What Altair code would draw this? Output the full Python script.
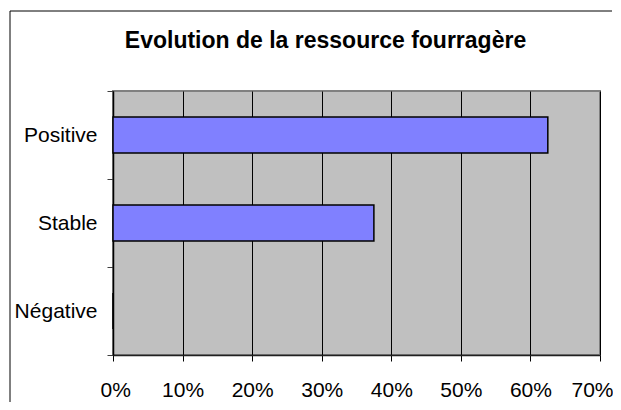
import altair as alt
import pandas as pd

categories = ["Positive", "Stable", "Négative"]
values = [0.625, 0.375, 0.0]
title_text = "Evolution de la ressource fourragère"

df = pd.DataFrame({"cat": categories, "val": values})
df_title = pd.DataFrame({"t": [title_text]})

FONT = "Liberation Sans"

bars = alt.Chart(df).mark_bar(
    fill="#8080FF", stroke="black", strokeWidth=1.5,
    height=alt.RelativeBandSize(0.41)
).encode(
    x=alt.X("val:Q", scale=alt.Scale(domain=[0, 0.7], nice=False),
            axis=alt.Axis(title=None, format=".0%", values=[0, 0.1, 0.2, 0.3, 0.4, 0.5, 0.6, 0.7],
                          grid=True, gridColor="black", gridWidth=1, gridOpacity=1,
                          domainColor="#202020", domainWidth=1.5,
                          tickColor="black", tickSize=6, tickWidth=1,
                          labelFont=FONT, labelFontSize=21, labelColor="black",
                          labelBaseline="alphabetic", labelPadding=35,
                          labelFlush=True, labelFlushOffset=13)),
    y=alt.Y("cat:N", sort=categories,
            scale=alt.Scale(paddingInner=0, paddingOuter=0),
            axis=alt.Axis(title=None, tickBand="extent", grid=False,
                          domainColor="black", domainWidth=1.5,
                          tickColor="#404040", tickSize=6, tickWidth=1,
                          labelFont=FONT, labelFontSize=21, labelColor="black",
                          labelPadding=10)),
)

frame_left = alt.Chart(df).mark_rule(stroke="black", strokeWidth=1).encode(
    x=alt.value(-103), y=alt.value(-80), y2=alt.value(330)
).transform_filter(alt.datum.cat == "Positive")

frame_top = alt.Chart(df).mark_rule(stroke="black", strokeWidth=1).encode(
    x=alt.value(-103), x2=alt.value(499), y=alt.value(-80)
).transform_filter(alt.datum.cat == "Positive")

title = alt.Chart(df_title).mark_text(
    font=FONT, fontSize=23, fontWeight="bold", color="black",
    align="center", baseline="alphabetic"
).encode(
    text="t:N", x=alt.value(212.5), y=alt.value(-43)
)

chart = alt.layer(frame_left, frame_top, bars, title).properties(
    width=487, height=264,
    background="white",
    autosize=alt.AutoSizeParams(type="none"),
    padding={"left": 105, "top": 83, "right": 13, "bottom": 47},
).configure_view(
    fill="#C0C0C0", stroke="#808080", strokeWidth=2
)

chart.save("out.html", embed_options={"renderer": "svg", "actions": False})
